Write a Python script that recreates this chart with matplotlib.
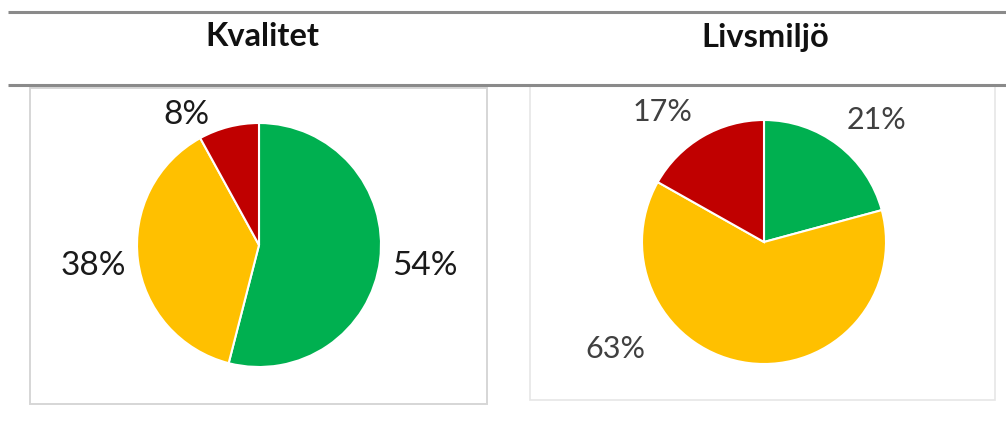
import matplotlib.pyplot as plt
import numpy as np
from matplotlib.patches import Rectangle

#%% Data
titles = ['Kvalitet', 'Livsmiljö']
kvalitet_values = [54, 38, 8]
kvalitet_labels = ['54%', '38%', '8%']
livsmiljo_values = [21, 63, 17]
livsmiljo_labels = ['21%', '63%', '17%']
slice_colors = ['#00B050', '#FFC000', '#C00000']

#%% Figure setup (work in pixel units, y up)
W, H = 1006, 429
fig = plt.figure(figsize=(W / 100, H / 100), dpi=100)
ax = fig.add_axes([0, 0, 1, 1])

def py(y):
    # image row -> axes y
    return H - y

# header rules and titles
for y in (12, 85):
    ax.plot([8, W], [py(y), py(y)], color='#8a8a8a', lw=2.2, solid_capstyle='butt')
for x, t in zip((262, 765), titles):
    ax.text(x, py(37), t, ha='center', va='center', fontsize=23.5,
            fontweight='bold', family=['Lato', 'DejaVu Sans'], color='#111111')

# chart boxes
ax.add_patch(Rectangle((30, py(404)), 457, 316, fill=False, ec='#d6d6d6', lw=1.4))
ax.add_patch(Rectangle((530, py(400)), 465, 314, fill=False, ec='#e6e6e6', lw=1.2))


def draw_pie(values, labels, center, radius, dist, color, size, moved):
    wedges, texts = ax.pie(values, labels=labels, colors=slice_colors, startangle=90,
                           counterclock=False, center=center, radius=radius,
                           labeldistance=dist, frame=True,
                           wedgeprops=dict(edgecolor='white', linewidth=1.5),
                           textprops=dict(ha='center', va='center', fontsize=size,
                                          color=color, family=['Lato', 'DejaVu Sans']))
    # some labels are nudged away from their slice midpoint like in the original
    for i, (ang, d) in moved.items():
        a = np.deg2rad(ang)
        texts[i].set_position((center[0] + d * radius * np.cos(a),
                               center[1] + d * radius * np.sin(a)))
    return wedges, texts


draw_pie(kvalitet_values, kvalitet_labels, (259, py(245)), 122, 1.37,
         '#1a1a1a', 24, {2: (119, 1.22)})
draw_pie(livsmiljo_values, livsmiljo_labels, (764, py(242)), 122, 1.36,
         '#404040', 22, {0: (47.5, 1.36), 1: (215.6, 1.5), 2: (128, 1.35)})

ax.set_xlim(0, W)
ax.set_ylim(0, H)
ax.set_aspect('auto')
ax.axis('off')

fig.savefig('out.png', dpi=100, facecolor='white')
